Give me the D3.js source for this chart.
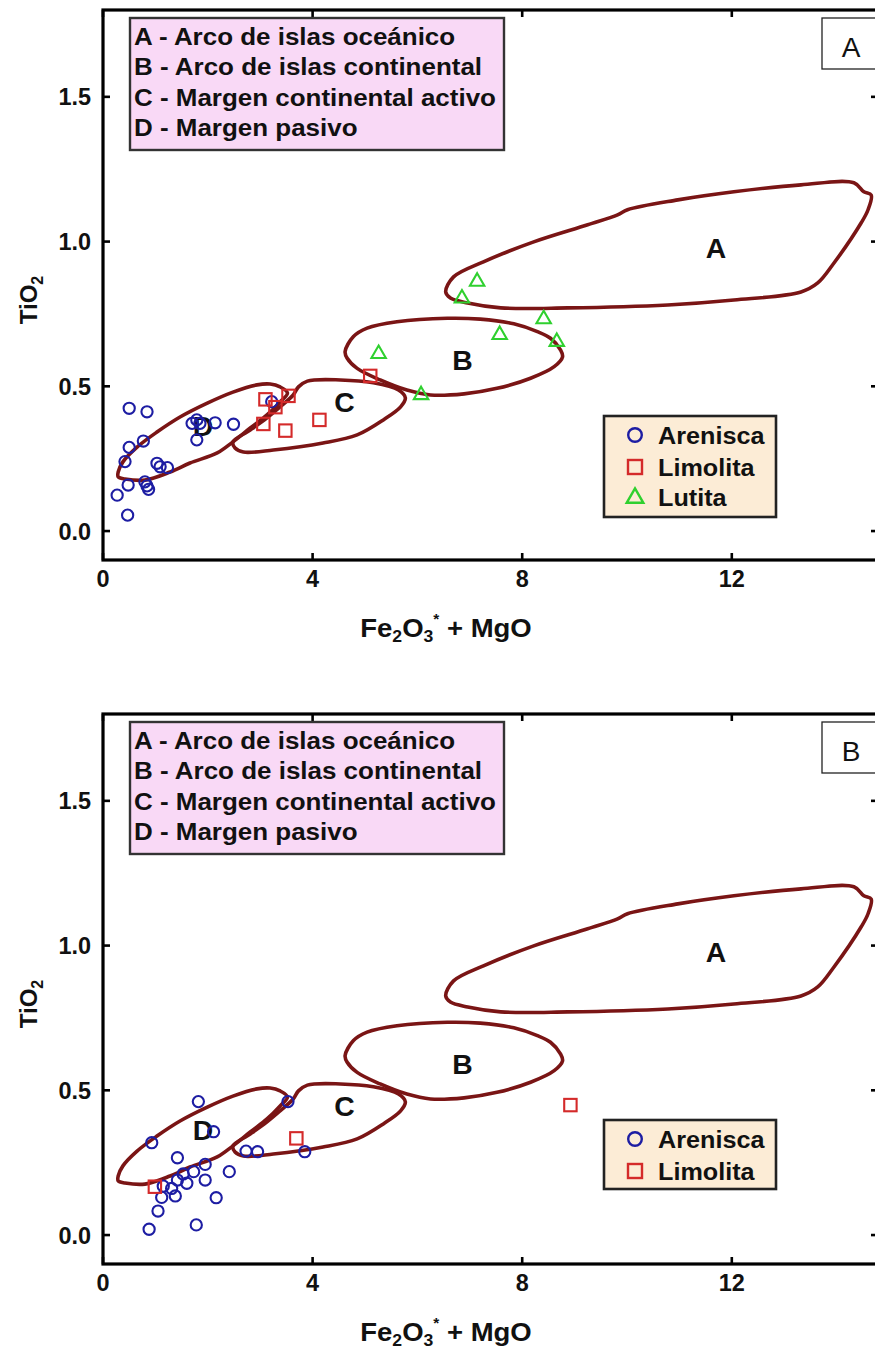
<!DOCTYPE html>
<html>
<head>
<meta charset="utf-8">
<script src="https://cdn.jsdelivr.net/npm/d3@7"></script>
<style>
  html, body { margin: 0; padding: 0; background: #ffffff; }
  svg { display: block; }
  text { font-family: "Liberation Sans", Arial, Helvetica, sans-serif; }
</style>
</head>
<body>
<svg id="chart" width="875" height="1353"></svg>
<script>
// ---- Tectonic discrimination fields (TiO2 vs Fe2O3* + MgO) ----
const fieldA = [[6.54,0.826],[6.69,0.878],[7.26,0.930],[8.22,0.999],[9.25,1.058],[9.82,1.092],[10.01,1.110],[10.97,1.144],[12.04,1.172],[13.32,1.196],[14.33,1.203],[14.52,1.172],[14.66,1.161],[14.60,1.110],[14.47,1.065],[13.95,0.926],[13.64,0.857],[13.32,0.826],[12.04,0.798],[10.78,0.781],[8.87,0.771],[7.59,0.771],[6.96,0.788],[6.63,0.805]];
const fieldB = [[4.62,0.620],[4.78,0.672],[5.04,0.701],[5.61,0.723],[6.57,0.735],[7.20,0.732],[7.84,0.716],[8.29,0.689],[8.54,0.666],[8.73,0.626],[8.77,0.602],[8.61,0.568],[8.16,0.528],[7.52,0.493],[6.89,0.474],[6.25,0.470],[5.80,0.487],[5.29,0.522],[4.85,0.562],[4.66,0.597]];
const fieldC = [[2.48,0.308],[2.52,0.287],[2.68,0.273],[3.25,0.280],[4.20,0.304],[4.85,0.332],[5.35,0.384],[5.68,0.429],[5.77,0.460],[5.64,0.487],[5.16,0.512],[4.53,0.522],[3.90,0.518],[3.73,0.498],[3.63,0.470],[3.38,0.429],[3.13,0.391],[2.81,0.349]];
const fieldD = [[0.29,0.187],[0.42,0.180],[0.80,0.176],[1.28,0.204],[1.66,0.235],[2.18,0.270],[2.48,0.308],[2.81,0.356],[3.13,0.401],[3.38,0.446],[3.52,0.477],[3.38,0.498],[3.19,0.508],[2.94,0.505],[2.48,0.480],[1.99,0.442],[1.47,0.394],[1.03,0.342],[0.65,0.290],[0.38,0.239],[0.29,0.204]];
const fieldNames = ["A", "B", "C", "D"];
const fieldLabelPos = [[11.70,0.978],[6.86,0.591],[4.61,0.446],[1.91,0.363]];
const fieldLegend = ["A - Arco de islas oceánico", "B - Arco de islas continental", "C - Margen continental activo", "D - Margen pasivo"];

// ---- Panel A samples ----
const arenisca1 = [[0.50,0.424],[0.84,0.412],[0.50,0.289],[0.77,0.311],[0.42,0.240],[1.03,0.234],[1.09,0.222],[1.23,0.219],[0.48,0.159],[0.80,0.170],[0.84,0.156],[0.87,0.144],[0.27,0.124],[0.47,0.055],[1.70,0.372],[1.79,0.384],[1.85,0.372],[2.14,0.374],[2.49,0.369],[1.79,0.315],[3.22,0.447]];
const limolita1 = [[3.10,0.455],[3.54,0.467],[3.29,0.428],[3.06,0.370],[3.48,0.347],[4.13,0.384],[5.10,0.536]];
const lutita1 = [[7.14,0.862],[6.85,0.804],[8.41,0.732],[8.66,0.654],[7.57,0.678],[6.07,0.470],[5.26,0.612]];

// ---- Panel B samples ----
const arenisca2 = [[1.82,0.461],[0.93,0.319],[2.11,0.357],[1.42,0.267],[1.95,0.244],[1.73,0.219],[1.53,0.211],[1.42,0.190],[1.60,0.179],[1.95,0.190],[2.41,0.219],[1.15,0.169],[1.31,0.161],[1.38,0.135],[1.12,0.130],[2.16,0.129],[1.05,0.083],[0.88,0.020],[1.78,0.035],[2.73,0.290],[2.95,0.288],[3.85,0.288],[3.53,0.461]];
const limolita2 = [[0.99,0.167],[3.69,0.334],[8.92,0.449]];

// ---- Axes ----
const xTicks = [0, 4, 8, 12];
const yTicks = [0.0, 0.5, 1.0, 1.5];
const xDomain = [0, 14.79];
const yDomain = [-0.1, 1.8];

const COL = { field: "#7a1515", circle: "#1d1da3", square: "#d42a2a", tri: "#2fd02f", ink: "#111111" };
const FONT_W = "bold";

const svg = d3.select("#chart");
svg.append("rect").attr("width", 875).attr("height", 1353).attr("fill", "#ffffff");

const x = d3.scaleLinear().domain(xDomain).range([103, 878]);
const y = d3.scaleLinear().domain(yDomain).range([560, 10]);

// horizontally widened text helper
function label(g, px, py, str, size, anchor, sx, weight) {
  return g.append("text")
    .attr("transform", `translate(${px},${py}) scale(${sx || 1},1)`)
    .attr("text-anchor", anchor || "start")
    .attr("font-size", size)
    .attr("font-weight", weight || FONT_W)
    .attr("fill", COL.ink)
    .text(str);
}

const fieldLine = d3.line()
  .x(d => x(d[0])).y(d => y(d[1]))
  .curve(d3.curveCatmullRomClosed.alpha(0.5));

function drawPanel(offsetY, tag, samples, legendItems) {
  const g = svg.append("g").attr("transform", `translate(0,${offsetY})`);

  // fields
  [fieldA, fieldB, fieldC, fieldD].forEach(f => {
    g.append("path").attr("d", fieldLine(f))
      .attr("fill", "none").attr("stroke", COL.field)
      .attr("stroke-width", 3.6).attr("stroke-linejoin", "round");
  });
  fieldNames.forEach((n, i) => {
    label(g, x(fieldLabelPos[i][0]), y(fieldLabelPos[i][1]) + 10, n, 27, "middle", 1.05);
  });

  // samples
  samples.forEach(s => {
    if (s.type === "circle") {
      g.append("g").selectAll("circle").data(s.data).join("circle")
        .attr("cx", d => x(d[0])).attr("cy", d => y(d[1])).attr("r", 5.6)
        .attr("fill", "none").attr("stroke", COL.circle).attr("stroke-width", 2.1);
    } else if (s.type === "square") {
      g.append("g").selectAll("rect").data(s.data).join("rect")
        .attr("x", d => x(d[0]) - 6.2).attr("y", d => y(d[1]) - 6.2)
        .attr("width", 12.4).attr("height", 12.4)
        .attr("fill", "none").attr("stroke", COL.square).attr("stroke-width", 2.1);
    } else {
      const tri = d3.symbol(d3.symbolTriangle, 90);
      g.append("g").selectAll("path").data(s.data).join("path")
        .attr("d", tri).attr("transform", d => `translate(${x(d[0])},${y(d[1])})`)
        .attr("fill", "none").attr("stroke", COL.tri).attr("stroke-width", 2.1);
    }
  });

  // frame and inward ticks
  g.append("rect").attr("x", 103).attr("y", 10).attr("width", 775).attr("height", 550)
    .attr("fill", "none").attr("stroke", "#000").attr("stroke-width", 3.2);
  const tl = 7;
  xTicks.forEach(t => {
    g.append("line").attr("x1", x(t)).attr("x2", x(t)).attr("y1", 560).attr("y2", 560 - tl)
      .attr("stroke", "#000").attr("stroke-width", 2.6);
    g.append("line").attr("x1", x(t)).attr("x2", x(t)).attr("y1", 10).attr("y2", 10 + tl)
      .attr("stroke", "#000").attr("stroke-width", 2.6);
    label(g, x(t), 587, String(t), 23, "middle", 1.02);
  });
  yTicks.forEach(t => {
    g.append("line").attr("x1", 103).attr("x2", 103 + tl).attr("y1", y(t)).attr("y2", y(t))
      .attr("stroke", "#000").attr("stroke-width", 2.6);
    g.append("line").attr("x1", 878).attr("x2", 878 - tl).attr("y1", y(t)).attr("y2", y(t))
      .attr("stroke", "#000").attr("stroke-width", 2.6);
    label(g, 91, y(t) + 8.5, t.toFixed(1), 23, "end", 1.02);
  });

  // axis titles
  const xt = g.append("text")
    .attr("transform", "translate(446,637) scale(1.1,1)")
    .attr("text-anchor", "middle").attr("font-size", 25).attr("font-weight", FONT_W).attr("fill", COL.ink);
  xt.append("tspan").text("Fe");
  xt.append("tspan").attr("font-size", 16).attr("dy", 5).text("2");
  xt.append("tspan").attr("dy", -5).text("O");
  xt.append("tspan").attr("font-size", 16).attr("dy", 5).text("3");
  xt.append("tspan").attr("font-size", 14).attr("dy", -18).text("*");
  xt.append("tspan").attr("dy", 13).text(" + MgO");

  const yt = g.append("text")
    .attr("transform", "translate(37,300) rotate(-90)")
    .attr("text-anchor", "middle").attr("font-size", 24).attr("font-weight", FONT_W).attr("fill", COL.ink);
  yt.append("tspan").text("TiO");
  yt.append("tspan").attr("font-size", 16).attr("dy", 6).text("2");

  // field legend
  g.append("rect").attr("x", 130).attr("y", 18).attr("width", 374).attr("height", 132)
    .attr("fill", "#f9d9f6").attr("stroke", "#333").attr("stroke-width", 2.4);
  const baselines = [45, 75, 106, 136];
  fieldLegend.forEach((s, i) => label(g, 134, baselines[i], s, 23.5, "start", 1.105));

  // panel tag
  g.append("rect").attr("x", 822).attr("y", 18).attr("width", 80).attr("height", 51)
    .attr("fill", "#fff").attr("stroke", "#222").attr("stroke-width", 1.3);
  label(g, 851, 57, tag, 28, "middle", 1, "normal");

  // sample legend
  const boxH = legendItems.length === 3 ? 101 : 69;
  g.append("rect").attr("x", 604).attr("y", 416).attr("width", 172).attr("height", boxH)
    .attr("fill", "#fcecd6").attr("stroke", "#222").attr("stroke-width", 2.6);
  const rowY = [435, 467, 497];
  legendItems.forEach((it, i) => {
    const cy = rowY[i];
    if (it.type === "circle") {
      g.append("circle").attr("cx", 635).attr("cy", cy).attr("r", 6.8)
        .attr("fill", "none").attr("stroke", COL.circle).attr("stroke-width", 2.4);
    } else if (it.type === "square") {
      g.append("rect").attr("x", 628).attr("y", cy - 7).attr("width", 14).attr("height", 14)
        .attr("fill", "none").attr("stroke", COL.square).attr("stroke-width", 2.4);
    } else {
      g.append("path").attr("d", d3.symbol(d3.symbolTriangle, 120)())
        .attr("transform", `translate(635,${cy + 1})`)
        .attr("fill", "none").attr("stroke", COL.tri).attr("stroke-width", 2.4);
    }
    label(g, 658, cy + 8.5, it.name, 24, "start", 1.05);
  });
}

const samplesA = [
  { type: "circle", data: arenisca1 },
  { type: "square", data: limolita1 },
  { type: "triangle", data: lutita1 }
];
const samplesB = [
  { type: "circle", data: arenisca2 },
  { type: "square", data: limolita2 }
];

drawPanel(0, "A", samplesA, [
  { type: "circle", name: "Arenisca" },
  { type: "square", name: "Limolita" },
  { type: "triangle", name: "Lutita" }
]);
drawPanel(704, "B", samplesB, [
  { type: "circle", name: "Arenisca" },
  { type: "square", name: "Limolita" }
]);
</script>
</body>
</html>
